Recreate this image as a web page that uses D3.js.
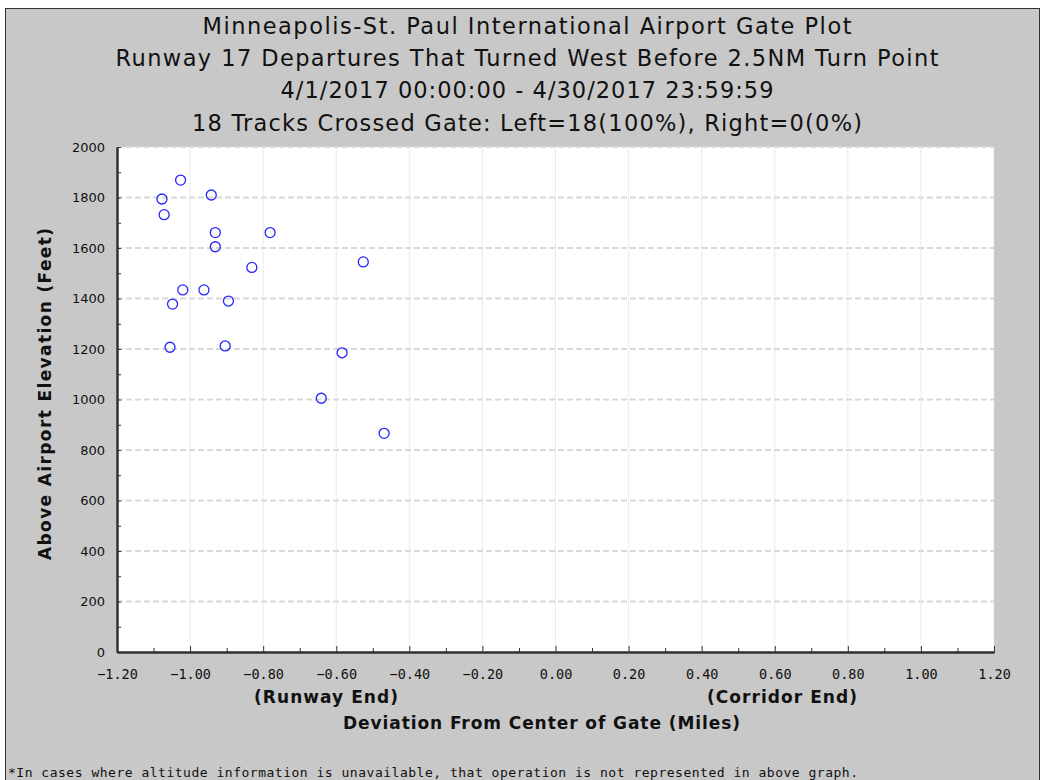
<!DOCTYPE html>
<html>
  <head>
    <meta http-equiv="Content-Type" content="text/html;charset=utf-8">
    <title>MSP Gate Plot</title>
    <script type="text/javascript" src="https://d3js.org/d3.v7.min.js"></script>
    <style>
      html, body { margin: 0; padding: 0; background: #fff; }
      text { font-family: "DejaVu Sans", sans-serif; fill: #111; }
      .title { font-size: 22.5px; }
      .axlabel { font-size: 17px; font-weight: bold; }
      .xtick text { font-family: "DejaVu Sans Mono", monospace; font-size: 13.5px; }
      .ytick text { font-family: "DejaVu Sans", sans-serif; font-size: 13px; }
      .foot { font-family: "DejaVu Sans Mono", monospace; font-size: 13px; }
    </style>
  </head>
  <body>
<script type="text/javascript">

var titles = [
  "Minneapolis-St. Paul International Airport Gate Plot",
  "Runway 17 Departures That Turned West Before 2.5NM Turn Point",
  "4/1/2017 00:00:00 - 4/30/2017 23:59:59",
  "18 Tracks Crossed Gate: Left=18(100%), Right=0(0%)"
];
var titleWidths = [649, 823, 493, 670];

// deviation (miles) and altitude (feet) of each track at the gate
var deviation = [-1.077, -1.026, -1.071, -0.942, -0.931, -0.931, -0.781, -0.831, -1.020,
                 -1.048, -0.962, -0.895, -0.526, -0.584, -0.641, -0.469, -1.055, -0.904];
var altitude  = [1794, 1869, 1732, 1810, 1661, 1605, 1661, 1523, 1434,
                 1378, 1434, 1390, 1545, 1185, 1005, 866, 1207, 1212];

var xTicks = [-1.2, -1.0, -0.8, -0.6, -0.4, -0.2, 0, 0.2, 0.4, 0.6, 0.8, 1.0, 1.2];
var yTicks = [0, 200, 400, 600, 800, 1000, 1200, 1400, 1600, 1800, 2000];

var W = 1041, H = 780;
var margin = {left: 117, right: 47, top: 147, bottom: 128};
var width = W - margin.left - margin.right;
var height = H - margin.top - margin.bottom;

var svg = d3.select("body").append("svg").attr("width", W).attr("height", H);

svg.append("rect")
  .attr("x", 5.5).attr("y", 8.5).attr("width", 1034).attr("height", 780)
  .attr("fill", "#c8c8c8").attr("stroke", "#333").attr("stroke-width", 1);

svg.selectAll("text.title").data(titles).enter().append("text")
  .attr("class", "title")
  .attr("x", 527)
  .attr("y", function(d, i) { return 34 + i * 32.2; })
  .attr("text-anchor", "middle")
  .attr("textLength", function(d, i) { return titleWidths[i]; })
  .attr("lengthAdjust", "spacing")
  .text(function(d) { return d; });

var x = d3.scaleLinear().domain([-1.2, 1.2]).range([0, width]);
var y = d3.scaleLinear().domain([0, 2000]).range([height, 0]);

var g = svg.append("g").attr("transform", "translate(" + margin.left + "," + margin.top + ")");

g.append("rect").attr("width", width).attr("height", height).attr("fill", "#fff");

// grid
g.selectAll("line.vgrid").data(xTicks).enter().append("line")
  .attr("x1", function(d) { return x(d); }).attr("x2", function(d) { return x(d); })
  .attr("y1", 0).attr("y2", height)
  .attr("stroke", "#d8d8d8").attr("stroke-width", 1).attr("stroke-dasharray", "1,1");

g.selectAll("line.hgrid").data(yTicks).enter().append("line")
  .attr("x1", 0).attr("x2", width)
  .attr("y1", function(d) { return y(d); }).attr("y2", function(d) { return y(d); })
  .attr("stroke", "#d8d8d8").attr("stroke-width", 2).attr("stroke-dasharray", "6,3");

// axes
var xAxis = d3.axisBottom(x).tickValues(xTicks).tickSizeInner(-6).tickSizeOuter(0).tickPadding(17);
var xMinor = d3.axisBottom(x).tickValues(d3.range(-11, 12, 2).map(function(v) { return v / 10; }))
  .tickFormat("").tickSizeInner(-4).tickSizeOuter(0);
var yAxis = d3.axisLeft(y).tickValues(yTicks).tickFormat(d3.format("d")).tickSizeInner(-4).tickSizeOuter(0).tickPadding(12);
var yMinor = d3.axisLeft(y).tickValues(d3.range(100, 2000, 200)).tickFormat("").tickSizeInner(-4).tickSizeOuter(0);

var gx = g.append("g").attr("class", "xtick").attr("transform", "translate(0," + height + ")").call(xAxis);
g.append("g").attr("transform", "translate(0," + height + ")").call(xMinor);
var gy = g.append("g").attr("class", "ytick").call(yAxis);
g.append("g").call(yMinor);

g.selectAll(".domain").attr("stroke", "#333").attr("stroke-width", 2);
g.selectAll(".tick line").attr("stroke", "#333");
gx.selectAll("text").attr("fill", "#111").text(function(d) { return d3.format(".2f")(d).replace("-", "\u2212"); });
gy.selectAll("text").attr("fill", "#111");

// points
g.selectAll("circle").data(deviation).enter().append("circle")
  .attr("cx", function(d) { return x(d); })
  .attr("cy", function(d, i) { return y(altitude[i]); })
  .attr("r", 5)
  .attr("fill", "none").attr("stroke", "#2525ff").attr("stroke-width", 1.3);

// axis labels
g.append("text").attr("class", "axlabel").attr("text-anchor", "middle")
  .attr("x", 326 - margin.left).attr("y", height + 51)
  .attr("textLength", 144).attr("lengthAdjust", "spacing").text("(Runway End)");
g.append("text").attr("class", "axlabel").attr("text-anchor", "middle")
  .attr("x", 782 - margin.left).attr("y", height + 51)
  .attr("textLength", 150).attr("lengthAdjust", "spacing").text("(Corridor End)");
g.append("text").attr("class", "axlabel").attr("text-anchor", "middle")
  .attr("x", 541.5 - margin.left).attr("y", height + 77)
  .attr("textLength", 397).attr("lengthAdjust", "spacing").text("Deviation From Center of Gate (Miles)");
g.append("text").attr("class", "axlabel").attr("text-anchor", "middle")
  .attr("transform", "translate(-66," + (394 - margin.top) + ") rotate(-90)")
  .attr("textLength", 332).attr("lengthAdjust", "spacing")
  .text("Above Airport Elevation (Feet)");

svg.append("text").attr("class", "foot").attr("x", 8).attr("y", 777)
  .attr("textLength", 850).attr("lengthAdjust", "spacing")
  .text("*In cases where altitude information is unavailable, that operation is not represented in above graph.");

</script>
  </body>
</html>
